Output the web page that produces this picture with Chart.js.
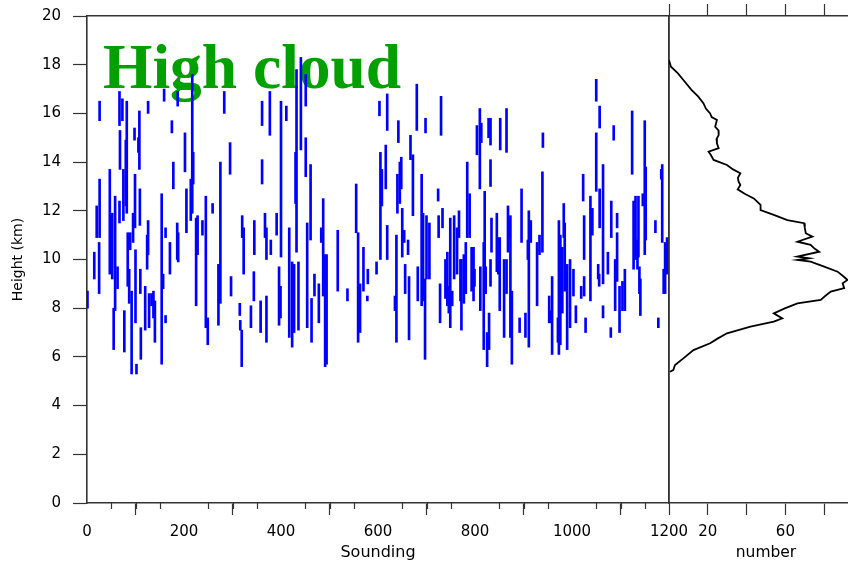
<!DOCTYPE html>
<html>
<head>
<meta charset="utf-8">
<script src="https://cdn.jsdelivr.net/npm/chart.js@4.4.0/dist/chart.umd.min.js"></script>
<style>
html,body{margin:0;padding:0;background:#fff;width:848px;height:566px;overflow:hidden;}
#wrap{position:relative;width:848px;height:566px;overflow:hidden;background:#fff;}
#title{position:absolute;left:103px;top:35px;font-family:"Liberation Serif","Times New Roman",serif;font-weight:bold;font-size:63.5px;line-height:63px;color:#00a000;white-space:nowrap;z-index:0;}
#c1{position:absolute;left:0;top:0;z-index:1;}
#c2{position:absolute;left:659px;top:0;z-index:2;}
</style>
</head>
<body>
<div id="wrap">
  <div id="title">High cloud</div>
  <canvas id="c1" width="700" height="566" style="width:700px;height:566px"></canvas>
  <canvas id="c2" width="204" height="566" style="width:204px;height:566px"></canvas>
</div>
<script>
// ---- Data: each cloud layer = sounding index, base height (km), top height (km)
const soundings = [
1,15,20,25,26,26,47,52,55,58,63,67,68,67,73,75,77,80,82,84,87,89,92,95,98,99,100,102,106,108,109,110,111,120,124,126,126,128,133,137,140,154,157,159,162,162,171,175,178,186,188,187,202,205,214,217,219,225,228,238,245,249,259,271,275,283,295,297,315,316,319,320,323,338,344,345,358,361,361,367,370,370,377,379,391,396,
400,399,411,417,423,427,432,430,436,441,451,451,454,461,463,469,478,483,487,491,494,517,537,555,559,563,570,578,579,597,603,605,608,616,619,619,635,638,640,642,645,648,650,654,656,662,664,667,672,680,682,690,693,697,698,700,706,724,725,728,730,733,739,743,746,749,753,757,763,767,770,772,777,781,784,789,793,
797,799,804,810,811,813,818,820,822,825,829,828,832,832,834,832,845,848,851,852,860,865,865,868,870,873,876,892,896,904,909,911,915,928,933,939,940,953,957,959,971,973,976,980,983,985,990,996,1003,1008,1019,1023,1025,1025,1028,1038,1042,1050,1050,1054,1057,1057,1056,1064,1064,1074,1080,1081,1086,1089,1093,1093,1098,1104,1109,1124,1127,1131,1135,1137,1139,1141,1146,1150,1152,1172,1178,1184,1186,1189,1192,1196
];
const cloudBase = [
8.0,9.2,10.9,8.6,10.9,15.7,9.4,9.2,6.3,7.9,8.8,15.5,13.7,11.5,15.7,11.6,6.2,12.2,11.9,8.9,8.2,10.4,5.3,10.7,14.9,11.3,7.4,5.3,14.4,13.7,11.4,8.6,5.9,7.1,9.6,10.2,16.0,7.2,8.1,7.6,6.6,5.7,8.8,16.5,7.4,10.9,9.4,15.2,12.9,10.0,9.9,16.3,13.6,11.1,11.6,11.9,13.1,8.1,10.2,11.0,7.2,6.5,11.9,7.3,8.2,16.0,13.5,8.5,7.7,7.1,5.6,10.9,9.4,7.2,8.3,10.2,7.0,15.5,13.1,10.9,10.0,6.6,15.1,10.2,11.0,7.3,
10.1,7.6,15.7,6.8,6.4,7.0,10.3,12.3,7.1,14.5,16.3,13.4,7.2,10.8,6.6,8.5,7.4,10.7,8.5,5.6,5.7,8.7,8.3,11.1,6.6,7.0,8.7,8.3,9.0,9.4,15.9,10.0,12.2,12.9,15.3,10.0,7.9,6.6,11.9,14.8,12.3,12.9,10.1,10.7,8.6,10.2,6.7,14.1,11.8,15.3,8.3,8.1,8.3,5.9,15.2,9.2,9.2,12.4,10.9,7.4,15.1,11.3,8.4,8.1,7.8,7.2,8.1,9.2,9.4,10.9,8.3,7.1,8.2,8.6,10.9,10.9,8.7,
8.3,8.9,14.3,12.9,7.9,14.8,6.3,8.6,8.6,5.6,6.3,15.0,14.7,13.0,10.3,8.9,9.5,9.4,7.9,14.5,6.8,14.4,8.6,10.3,10.9,6.8,5.7,7.0,10.7,6.8,10.0,6.4,10.7,8.1,10.2,10.3,14.6,7.4,7.4,6.1,6.6,6.1,6.5,7.8,10.9,8.7,6.3,7.2,8.5,7.4,8.4,12.4,10.0,8.5,7.0,8.3,11.0,16.5,12.8,9.2,15.4,11.3,8.9,9.0,7.6,9.4,6.8,10.9,14.9,7.9,11.3,9.1,7.0,7.9,7.9,13.5,9.6,10.0,9.6,10.1,8.6,7.7,12.2,10.2,10.8,11.1,7.2,13.3,10.7,8.6,8.6,9.4
];
const cloudTop = [
8.7,10.3,12.2,10.7,13.3,16.5,13.7,11.9,8.0,12.6,9.7,16.9,15.3,12.4,16.6,13.7,7.9,14.9,16.5,11.1,9.6,11.1,8.7,11.9,15.4,13.5,10.4,5.7,15.0,16.1,12.9,9.6,7.2,8.9,11.0,11.6,16.5,8.6,8.6,8.7,8.3,12.7,9.4,17.0,7.7,11.3,10.7,15.7,14.0,11.5,11.1,16.9,15.2,12.9,13.3,17.6,14.4,11.7,11.8,11.6,12.6,7.6,12.3,9.8,14.0,16.9,14.8,9.3,8.2,7.5,7.1,11.8,11.3,8.1,9.5,11.6,8.3,16.5,14.1,11.9,11.3,8.5,16.9,10.8,11.9,9.7,
16.5,8.9,16.3,11.3,9.9,9.8,17.8,14.4,9.9,18.3,17.6,15.0,11.5,13.9,8.4,9.4,9.0,11.3,12.5,10.2,10.2,11.2,8.8,13.1,11.1,9.0,10.5,8.5,9.6,9.9,16.5,14.4,13.7,14.7,16.8,11.4,8.5,11.0,13.5,15.7,14.0,14.2,12.1,11.2,9.8,10.8,9.3,15.1,14.3,17.2,9.7,13.5,11.9,9.2,15.8,11.8,11.5,12.9,11.8,9.0,16.7,12.1,10.0,10.3,8.9,11.7,8.7,11.8,11.3,12.0,10.0,10.0,10.2,10.7,14.0,12.7,10.5,
10.5,9.6,15.5,16.2,9.7,15.6,10.7,12.8,9.7,7.0,7.8,15.8,15.8,14.1,11.7,10.0,11.9,10.9,10.9,15.8,10.0,16.2,10.0,12.2,11.6,11.8,8.7,7.6,12.9,7.8,10.8,12.0,11.6,10.7,11.0,13.6,15.2,8.5,7.9,9.3,7.6,11.6,11.0,10.5,12.3,11.5,9.8,10.0,9.6,8.1,8.9,13.5,11.8,9.3,7.6,12.6,12.1,17.4,15.2,9.8,16.3,12.9,9.4,13.9,8.1,10.3,7.2,12.4,15.5,10.0,11.9,11.1,8.9,9.1,9.6,16.1,12.4,12.6,10.8,12.6,9.7,9.2,12.7,15.7,13.8,11.6,7.6,13.7,13.9,9.6,10.7,10.9
];
// ---- Frequency profile (right panel): height (km) vs number
const profileHeight = [18.19,17.92,17.65,17.37,16.96,16.7,16.41,16.2,16.0,15.85,15.73,15.45,15.3,15.11,14.95,14.77,14.57,14.43,14.3,14.09,13.88,13.7,13.54,13.35,13.2,13.06,12.88,12.7,12.51,12.24,12.03,11.83,11.62,11.49,11.3,11.08,10.94,10.73,10.6,10.45,10.32,10.12,10.05,9.98,9.91,9.71,9.5,9.3,9.16,9.02,8.82,8.68,8.5,8.34,8.2,8.0,7.79,7.58,7.45,7.24,6.97,6.75,6.56,6.28,5.94,5.67,5.46,5.39];
const profileNumber = [0,1,4.5,7.4,11.7,15,17.8,19,21.2,22,24.7,23.8,25.5,25.6,24.5,24.7,25.6,20.4,21.5,23,29.9,33,36.8,35.5,35.9,36.8,35.4,39,43.7,47.2,47.2,54,61,69.6,70,70.5,73.9,66.2,73,75,77.4,66.2,72.2,66.2,73,80,86.9,90,92,89.5,90.3,83.4,80.5,78.2,66.2,60,54,58.4,54,42,29.9,25,21.2,12.6,7.4,3.1,2.2,0.5];
// ---- Ticks
const soundingTicks = [0,200,400,600,800,1000,1200];
const soundingTickLabels = ['0','200','400','600','800','1000','1200'];
const minorStep = 50;
const heightTicks = [0,2,4,6,8,10,12,14,16,18,20];
const heightTickLabels = ['0','2','4','6','8','10','12','14','16','18','20'];
const numberTicks = [0,20,40,60,80];
const numberTickLabels = ['','20','','60',''];

const AX = '#333333';
const FONT = 'DejaVu Sans';

const zeroPad = s => { s.paddingTop = 0; s.paddingBottom = 0; s.paddingLeft = 0; s.paddingRight = 0; };

const minorTicks = {
  id: 'minorTicks',
  afterDraw(chart) {
    const sx = chart.scales.x, ctx = chart.ctx, b = chart.chartArea.bottom;
    ctx.save();
    ctx.strokeStyle = AX; ctx.lineWidth = 1.2;
    for (let v = sx.min; v <= sx.max; v += minorStep) {
      if (soundingTicks.includes(v)) continue;
      const px = Math.round(sx.getPixelForValue(v)) + 0.5;
      ctx.beginPath(); ctx.moveTo(px, b); ctx.lineTo(px, b + 6); ctx.stroke();
    }
    ctx.restore();
  }
};

const barData = soundings.map((s, i) => ({x: s, y: [cloudBase[i], cloudTop[i]]}));

new Chart(document.getElementById('c1'), {
  type: 'bar',
  data: {datasets: [{data: barData, backgroundColor: '#0000ff', borderWidth: 0, barThickness: 2, grouped: false}]},
  options: {
    responsive: false, animation: false, events: [],
    layout: {padding: {top: 16, right: 31, left: 0, bottom: 0}},
    plugins: {legend: {display: false}, tooltip: {enabled: false}},
    scales: {
      x: {
        type: 'linear', position: 'bottom', min: 0, max: 1200, offset: false,
        afterBuildTicks: s => { s.ticks = soundingTicks.map(v => ({value: v})); },
        ticks: {callback: v => soundingTickLabels[soundingTicks.indexOf(v)], font: {family: FONT, size: 15}, color: '#000', padding: 8, maxRotation: 0, autoSkip: false},
        grid: {drawOnChartArea: false, tickLength: 12, tickColor: AX, tickWidth: 1.2},
        border: {color: AX, width: 1.6},
        title: {display: true, text: 'Sounding', font: {family: FONT, size: 16}, color: '#000', padding: {top: 0, bottom: 4}},
        afterFit: s => { s.height = 63; zeroPad(s); }
      },
      xTop: {
        type: 'linear', position: 'top', min: 0, max: 1200,
        ticks: {display: false},
        grid: {drawOnChartArea: false, drawTicks: false},
        border: {color: AX, width: 1.6},
        afterFit: s => { s.height = 0; zeroPad(s); }
      },
      y: {
        type: 'linear', position: 'left', min: 0, max: 20,
        afterBuildTicks: s => { s.ticks = heightTicks.map(v => ({value: v})); },
        ticks: {callback: v => heightTickLabels[heightTicks.indexOf(v)], font: {family: FONT, size: 15}, color: '#000', padding: 12, autoSkip: false},
        grid: {drawOnChartArea: false, tickLength: 14, tickColor: AX, tickWidth: 1.2},
        border: {color: AX, width: 1.6},
        title: {display: true, text: 'Height (km)', font: {family: FONT, size: 14}, color: '#000', padding: {top: 10, bottom: 0}},
        afterFit: s => { s.width = 87; zeroPad(s); }
      },
      yRight: {
        type: 'linear', position: 'right', min: 0, max: 20,
        ticks: {display: false},
        grid: {drawOnChartArea: false, drawTicks: false},
        border: {color: AX, width: 1.6},
        afterFit: s => { s.width = 0; zeroPad(s); }
      }
    }
  },
  plugins: [minorTicks]
});

new Chart(document.getElementById('c2'), {
  type: 'scatter',
  data: {datasets: [{
    data: profileNumber.map((n, i) => ({x: n, y: profileHeight[i]})),
    showLine: true, borderColor: '#000', borderWidth: 1.8, pointRadius: 0, tension: 0, fill: false
  }]},
  options: {
    responsive: false, animation: false, events: [],
    layout: {padding: {top: 4, right: 0, left: 10, bottom: 0}},
    plugins: {legend: {display: false}, tooltip: {enabled: false}},
    scales: {
      x: {
        type: 'linear', position: 'bottom', min: 0, max: 100,
        afterBuildTicks: s => { s.ticks = numberTicks.map(v => ({value: v})); },
        ticks: {callback: v => numberTickLabels[numberTicks.indexOf(v)], font: {family: FONT, size: 15}, color: '#000', padding: 8, maxRotation: 0, autoSkip: false},
        grid: {drawOnChartArea: false, tickLength: 12, tickColor: AX, tickWidth: 1.2},
        border: {color: AX, width: 1.6},
        title: {display: true, text: 'number', font: {family: FONT, size: 15.5}, color: '#000', padding: {top: 0, bottom: 4}},
        afterFit: s => { s.height = 63; zeroPad(s); }
      },
      xTop: {
        type: 'linear', position: 'top', min: 0, max: 100,
        afterBuildTicks: s => { s.ticks = numberTicks.map(v => ({value: v})); },
        ticks: {display: false},
        grid: {drawOnChartArea: false, tickLength: 12, tickColor: AX, tickWidth: 1.2},
        border: {color: AX, width: 1.6},
        afterFit: s => { s.height = 12; zeroPad(s); }
      },
      y: {
        type: 'linear', position: 'left', min: 0, max: 20,
        ticks: {display: false},
        grid: {drawOnChartArea: false, drawTicks: false},
        border: {color: AX, width: 1.6},
        afterFit: s => { s.width = 0; zeroPad(s); }
      }
    }
  }
});
</script>
</body>
</html>
